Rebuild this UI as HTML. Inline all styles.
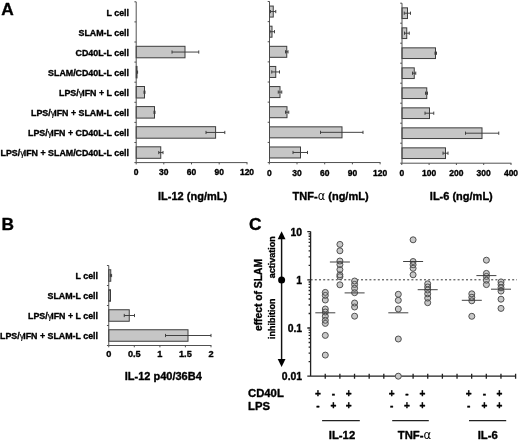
<!DOCTYPE html>
<html lang="en">
<head>
<meta charset="utf-8">
<title>Figure</title>
<style>
html,body{margin:0;padding:0;background:#fff;}
body{width:520px;height:442px;overflow:hidden;}
svg{display:block;filter:blur(0.45px);font-family:"Liberation Sans",Arial,Helvetica,sans-serif;font-weight:bold;fill:#000;}
text{stroke:#000;stroke-width:0.35px;stroke-linejoin:round;}
.sym{stroke-width:0.15px;}
.g{letter-spacing:-0.9px;}
.al{font-family:"DejaVu Sans","Liberation Sans",sans-serif;font-size:1.04em;stroke-width:0;}
.lab{font-size:8.85px;text-anchor:end;}
.tk{font-size:8.5px;text-anchor:middle;}
.tkb{font-size:9.2px;text-anchor:middle;}
.tkc{font-size:10.4px;text-anchor:end;}
.ttl{font-size:11px;text-anchor:middle;}
.pl{font-size:17.3px;}
.c11{font-size:11.3px;}
.pm{font-size:10px;text-anchor:middle;}
.sym{font-weight:normal;}
.ax{stroke:#484848;stroke-width:0.95;fill:none;}
.bar{fill:#c6c6c6;stroke:#3c3c3c;stroke-width:1;}
.eb{stroke:#3a3a3a;stroke-width:0.95;fill:none;}
.dotf{fill:#c8c8c8;stroke:none;}
.dots{fill:none;stroke:#505050;stroke-width:1;}
.axc{stroke:#222;stroke-width:1.3;fill:none;}
.med{stroke:#383838;stroke-width:0.95;fill:none;}
</style>
</head>
<body>
<svg width="520" height="442" viewBox="0 0 520 442">
<rect x="0" y="0" width="520" height="442" fill="#fff"/>

<text class="pl" x="1.3" y="14.6">A</text>
<text class="lab" x="129" y="15.7">L cell</text>
<text class="lab" x="129" y="35.7">SLAM-L cell</text>
<text class="lab" x="129" y="55.7">CD40L-L cell</text>
<text class="lab" x="129" y="75.7">SLAM/CD40L-L cell</text>
<text class="lab" x="129" y="95.7">LPS/<tspan class="sym g">γ</tspan>IFN + L cell</text>
<text class="lab" x="129" y="115.7">LPS/<tspan class="sym g">γ</tspan>IFN + SLAM-L cell</text>
<text class="lab" x="129" y="135.7">LPS/<tspan class="sym g">γ</tspan>IFN + CD40L-L cell</text>
<text class="lab" x="129" y="155.7">LPS/<tspan class="sym g">γ</tspan>IFN + SLAM/CD40L-L cell</text>
<rect class="bar" x="136.20" y="46.30" width="48.80" height="11.50"/>
<path class="eb" d="M172.00 52.05H198.75M172.00 50.45V53.65M198.75 50.45V53.65"/>
<rect class="bar" x="136.20" y="66.40" width="0.80" height="11.50"/>
<path class="eb" d="M136.60 72.15H137.60M136.60 70.55V73.75M137.60 70.55V73.75"/>
<rect class="bar" x="136.20" y="86.50" width="8.30" height="11.50"/>
<path class="eb" d="M144.00 92.25H145.00M144.00 90.65V93.85M145.00 90.65V93.85"/>
<rect class="bar" x="136.20" y="106.60" width="18.30" height="11.50"/>
<path class="eb" d="M154.00 112.35H155.00M154.00 110.75V113.95M155.00 110.75V113.95"/>
<rect class="bar" x="136.20" y="126.70" width="79.40" height="11.50"/>
<path class="eb" d="M206.00 132.45H224.80M206.00 130.85V134.05M224.80 130.85V134.05"/>
<rect class="bar" x="136.20" y="146.80" width="24.55" height="11.50"/>
<path class="eb" d="M158.75 152.55H163.00M158.75 150.95V154.15M163.00 150.95V154.15"/>
<path class="ax" d="M136.20 1.80V162.60H247.40M134.40 1.80H136.20M134.40 21.90H136.20M134.40 42.00H136.20M134.40 62.10H136.20M134.40 82.20H136.20M134.40 102.30H136.20M134.40 122.40H136.20M134.40 142.50H136.20M134.40 162.60H136.20M136.20 162.60V164.40M163.80 162.60V164.40M191.50 162.60V164.40M219.20 162.60V164.40M247.00 162.60V164.40"/>
<text class="tk" x="136.20" y="175.30">0</text>
<text class="tk" x="163.80" y="175.30">30</text>
<text class="tk" x="191.50" y="175.30">60</text>
<text class="tk" x="219.20" y="175.30">90</text>
<text class="tk" x="247.00" y="175.30">120</text>
<text class="ttl" x="192.60" y="200.40">IL-12 (ng/mL)</text>
<rect class="bar" x="269.50" y="6.06" width="3.75" height="11.00"/>
<path class="eb" d="M270.50 11.56H275.75M270.50 9.96V13.16M275.75 9.96V13.16"/>
<rect class="bar" x="269.50" y="26.20" width="2.50" height="11.00"/>
<path class="eb" d="M270.00 31.70H274.50M270.00 30.09V33.30M274.50 30.09V33.30"/>
<rect class="bar" x="269.50" y="46.32" width="17.25" height="11.00"/>
<path class="eb" d="M285.50 51.82H288.00M285.50 50.22V53.42M288.00 50.22V53.42"/>
<rect class="bar" x="269.50" y="66.45" width="6.25" height="11.00"/>
<path class="eb" d="M271.75 71.95H279.50M271.75 70.36V73.55M279.50 70.36V73.55"/>
<rect class="bar" x="269.50" y="86.58" width="10.50" height="11.00"/>
<path class="eb" d="M278.25 92.08H281.75M278.25 90.48V93.68M281.75 90.48V93.68"/>
<rect class="bar" x="269.50" y="106.71" width="17.50" height="11.00"/>
<path class="eb" d="M285.50 112.21H288.75M285.50 110.61V113.81M288.75 110.61V113.81"/>
<rect class="bar" x="269.50" y="126.84" width="72.50" height="11.00"/>
<path class="eb" d="M320.50 132.34H363.00M320.50 130.75V133.94M363.00 130.75V133.94"/>
<rect class="bar" x="269.50" y="146.97" width="31.00" height="11.00"/>
<path class="eb" d="M293.00 152.47H307.50M293.00 150.88V154.07M307.50 150.88V154.07"/>
<path class="ax" d="M269.50 1.50V162.54H380.50M267.70 1.50H269.50M267.70 21.63H269.50M267.70 41.76H269.50M267.70 61.89H269.50M267.70 82.02H269.50M267.70 102.15H269.50M267.70 122.28H269.50M267.70 142.41H269.50M267.70 162.54H269.50M269.30 162.54V164.34M297.00 162.54V164.34M324.70 162.54V164.34M352.40 162.54V164.34M380.10 162.54V164.34"/>
<text class="tk" x="269.30" y="175.80">0</text>
<text class="tk" x="297.00" y="175.80">30</text>
<text class="tk" x="324.70" y="175.80">60</text>
<text class="tk" x="352.40" y="175.80">90</text>
<text class="tk" x="380.10" y="175.80">120</text>
<text class="ttl" x="330.60" y="200.00">TNF-<tspan class="sym al">α</tspan> (ng/mL)</text>
<rect class="bar" x="402.00" y="7.85" width="5.50" height="10.70"/>
<path class="eb" d="M404.25 13.20H410.50M404.25 11.60V14.80M410.50 11.60V14.80"/>
<rect class="bar" x="402.00" y="27.85" width="4.75" height="10.70"/>
<path class="eb" d="M404.50 33.20H409.25M404.50 31.60V34.80M409.25 31.60V34.80"/>
<rect class="bar" x="402.00" y="47.85" width="33.50" height="10.70"/>
<path class="eb" d="M435.00 53.20H436.50M435.00 51.60V54.80M436.50 51.60V54.80"/>
<rect class="bar" x="402.00" y="67.85" width="12.25" height="10.70"/>
<path class="eb" d="M412.50 73.20H415.75M412.50 71.60V74.80M415.75 71.60V74.80"/>
<rect class="bar" x="402.00" y="87.85" width="24.75" height="10.70"/>
<path class="eb" d="M425.50 93.20H427.50M425.50 91.60V94.80M427.50 91.60V94.80"/>
<rect class="bar" x="402.00" y="107.85" width="27.50" height="10.70"/>
<path class="eb" d="M425.00 113.20H433.75M425.00 111.60V114.80M433.75 111.60V114.80"/>
<rect class="bar" x="402.00" y="127.85" width="80.00" height="10.70"/>
<path class="eb" d="M465.50 133.20H498.75M465.50 131.60V134.80M498.75 131.60V134.80"/>
<rect class="bar" x="402.00" y="147.85" width="43.50" height="10.70"/>
<path class="eb" d="M443.00 153.20H448.00M443.00 151.60V154.80M448.00 151.60V154.80"/>
<path class="ax" d="M402.00 3.20V163.20H511.40M400.20 3.20H402.00M400.20 23.20H402.00M400.20 43.20H402.00M400.20 63.20H402.00M400.20 83.20H402.00M400.20 103.20H402.00M400.20 123.20H402.00M400.20 143.20H402.00M400.20 163.20H402.00M401.75 163.20V165.00M429.10 163.20V165.00M456.40 163.20V165.00M483.70 163.20V165.00M511.00 163.20V165.00"/>
<text class="tk" x="401.75" y="175.80">0</text>
<text class="tk" x="429.10" y="175.80">100</text>
<text class="tk" x="456.40" y="175.80">200</text>
<text class="tk" x="483.70" y="175.80">300</text>
<text class="tk" x="511.00" y="175.80">400</text>
<text class="ttl" x="461.30" y="200.40">IL-6 (ng/mL)</text>
<text class="pl" x="1.6" y="229.8">B</text>
<text class="lab" x="98" y="278.8">L cell</text>
<text class="lab" x="98" y="298.8">SLAM-L cell</text>
<text class="lab" x="98" y="318.8">LPS/<tspan class="sym g">γ</tspan>IFN + L cell</text>
<text class="lab" x="98" y="338.8">LPS/<tspan class="sym g">γ</tspan>IFN + SLAM-L cell</text>
<rect class="bar" x="108.75" y="269.75" width="2.00" height="11.50"/>
<path class="eb" d="M110.30 275.50H111.60M110.30 273.90V277.10M111.60 273.90V277.10"/>
<rect class="bar" x="108.75" y="289.75" width="1.75" height="11.50"/>
<rect class="bar" x="108.75" y="309.75" width="20.50" height="11.50"/>
<path class="eb" d="M124.25 315.50H134.50M124.25 313.90V317.10M134.50 313.90V317.10"/>
<rect class="bar" x="108.75" y="329.75" width="79.25" height="11.50"/>
<path class="eb" d="M165.50 335.50H211.00M165.50 333.90V337.10M211.00 333.90V337.10"/>
<path class="ax" d="M108.75 265.50V345.50H211.40M106.95 265.50H108.75M106.95 285.50H108.75M106.95 305.50H108.75M106.95 325.50H108.75M106.95 345.50H108.75M108.75 345.50V347.30M134.30 345.50V347.30M159.90 345.50V347.30M185.40 345.50V347.30M211.00 345.50V347.30"/>
<text class="tkb" x="108.75" y="357.30">0</text>
<text class="tkb" x="134.30" y="357.30">0.5</text>
<text class="tkb" x="159.90" y="357.30">1</text>
<text class="tkb" x="185.40" y="357.30">1.5</text>
<text class="tkb" x="211.00" y="357.30">2</text>
<text class="ttl" x="163.30" y="380.20">IL-12 p40/36B4</text>
<text class="pl" x="248.9" y="230.3">C</text>
<path d="M310.60 279.80H517" stroke="#333" stroke-width="1" stroke-dasharray="2 2.2" fill="none"/>
<path class="axc" d="M310.60 231.60V376.20H515.60M307.30 231.60H310.60M307.30 279.80H310.60M307.30 328.00H310.60M307.30 376.20H310.60M308.60 265.29H310.60M308.60 256.80H310.60M308.60 250.78H310.60M308.60 246.11H310.60M308.60 242.29H310.60M308.60 239.07H310.60M308.60 236.27H310.60M308.60 233.81H310.60M308.60 313.49H310.60M308.60 305.00H310.60M308.60 298.98H310.60M308.60 294.31H310.60M308.60 290.49H310.60M308.60 287.27H310.60M308.60 284.47H310.60M308.60 282.01H310.60M308.60 361.69H310.60M308.60 353.20H310.60M308.60 347.18H310.60M308.60 342.51H310.60M308.60 338.69H310.60M308.60 335.47H310.60M308.60 332.67H310.60M308.60 330.21H310.60M325.24 373.70V378.70M339.89 373.70V378.70M354.53 373.70V378.70M369.17 373.70V378.70M383.81 373.70V378.70M398.46 373.70V378.70M413.10 373.70V378.70M427.74 373.70V378.70M442.39 373.70V378.70M457.03 373.70V378.70M471.67 373.70V378.70M486.31 373.70V378.70M500.96 373.70V378.70M515.60 373.70V378.70"/>
<text class="tkc" x="302.1" y="235.70">10</text>
<text class="tkc" x="302.1" y="283.90">1</text>
<text class="tkc" x="302.1" y="332.10">0.1</text>
<text class="tkc" x="302.1" y="380.30">0.01</text>
<path d="M281.60 236V361" stroke="#111" stroke-width="1.45" fill="none"/>
<path d="M281.60 231.2L285.50 239.2H277.70Z" fill="#000"/>
<path d="M281.60 367L285.50 359H277.70Z" fill="#000"/>
<circle cx="281.60" cy="280.10" r="3.5" fill="#000"/>
<text transform="translate(262.2 295) rotate(-90)" text-anchor="middle" font-size="10.3">effect of SLAM</text>
<text transform="translate(274.6 257.2) rotate(-90)" text-anchor="middle" font-size="9">activation</text>
<text transform="translate(274.6 318.8) rotate(-90)" text-anchor="middle" font-size="9">inhibition</text>
<circle class="dotf" cx="325.30" cy="292.40" r="3.0"/>
<circle class="dotf" cx="325.30" cy="295.40" r="3.0"/>
<circle class="dotf" cx="325.30" cy="300.00" r="3.0"/>
<circle class="dotf" cx="325.30" cy="309.00" r="3.0"/>
<circle class="dotf" cx="325.30" cy="312.00" r="3.0"/>
<circle class="dotf" cx="325.30" cy="316.20" r="3.0"/>
<circle class="dotf" cx="325.30" cy="320.30" r="3.0"/>
<circle class="dotf" cx="325.30" cy="323.40" r="3.0"/>
<circle class="dotf" cx="325.30" cy="335.40" r="3.0"/>
<circle class="dotf" cx="325.30" cy="355.10" r="3.0"/>
<circle class="dots" cx="325.30" cy="292.40" r="3.0"/>
<circle class="dots" cx="325.30" cy="295.40" r="3.0"/>
<circle class="dots" cx="325.30" cy="300.00" r="3.0"/>
<circle class="dots" cx="325.30" cy="309.00" r="3.0"/>
<circle class="dots" cx="325.30" cy="312.00" r="3.0"/>
<circle class="dots" cx="325.30" cy="316.20" r="3.0"/>
<circle class="dots" cx="325.30" cy="320.30" r="3.0"/>
<circle class="dots" cx="325.30" cy="323.40" r="3.0"/>
<circle class="dots" cx="325.30" cy="335.40" r="3.0"/>
<circle class="dots" cx="325.30" cy="355.10" r="3.0"/>
<path class="med" d="M315.30 312.80H335.30"/>
<circle class="dotf" cx="339.90" cy="244.40" r="3.0"/>
<circle class="dotf" cx="339.90" cy="250.80" r="3.0"/>
<circle class="dotf" cx="339.90" cy="261.00" r="3.0"/>
<circle class="dotf" cx="339.90" cy="264.60" r="3.0"/>
<circle class="dotf" cx="339.90" cy="269.60" r="3.0"/>
<circle class="dotf" cx="339.90" cy="274.80" r="3.0"/>
<circle class="dotf" cx="339.90" cy="276.70" r="3.0"/>
<circle class="dotf" cx="339.90" cy="284.80" r="3.0"/>
<circle class="dots" cx="339.90" cy="244.40" r="3.0"/>
<circle class="dots" cx="339.90" cy="250.80" r="3.0"/>
<circle class="dots" cx="339.90" cy="261.00" r="3.0"/>
<circle class="dots" cx="339.90" cy="264.60" r="3.0"/>
<circle class="dots" cx="339.90" cy="269.60" r="3.0"/>
<circle class="dots" cx="339.90" cy="274.80" r="3.0"/>
<circle class="dots" cx="339.90" cy="276.70" r="3.0"/>
<circle class="dots" cx="339.90" cy="284.80" r="3.0"/>
<path class="med" d="M329.90 262.00H349.90"/>
<circle class="dotf" cx="354.60" cy="281.00" r="3.0"/>
<circle class="dotf" cx="354.60" cy="284.40" r="3.0"/>
<circle class="dotf" cx="354.60" cy="288.30" r="3.0"/>
<circle class="dotf" cx="354.60" cy="292.70" r="3.0"/>
<circle class="dotf" cx="354.60" cy="303.00" r="3.0"/>
<circle class="dotf" cx="354.60" cy="307.00" r="3.0"/>
<circle class="dotf" cx="354.60" cy="316.20" r="3.0"/>
<circle class="dots" cx="354.60" cy="281.00" r="3.0"/>
<circle class="dots" cx="354.60" cy="284.40" r="3.0"/>
<circle class="dots" cx="354.60" cy="288.30" r="3.0"/>
<circle class="dots" cx="354.60" cy="292.70" r="3.0"/>
<circle class="dots" cx="354.60" cy="303.00" r="3.0"/>
<circle class="dots" cx="354.60" cy="307.00" r="3.0"/>
<circle class="dots" cx="354.60" cy="316.20" r="3.0"/>
<path class="med" d="M344.60 292.90H364.60"/>
<circle class="dotf" cx="398.30" cy="294.30" r="3.0"/>
<circle class="dotf" cx="398.30" cy="300.30" r="3.0"/>
<circle class="dotf" cx="398.30" cy="309.00" r="3.0"/>
<circle class="dotf" cx="398.30" cy="339.00" r="3.0"/>
<circle class="dotf" cx="398.30" cy="376.20" r="3.0"/>
<circle class="dots" cx="398.30" cy="294.30" r="3.0"/>
<circle class="dots" cx="398.30" cy="300.30" r="3.0"/>
<circle class="dots" cx="398.30" cy="309.00" r="3.0"/>
<circle class="dots" cx="398.30" cy="339.00" r="3.0"/>
<circle class="dots" cx="398.30" cy="376.20" r="3.0"/>
<path class="med" d="M388.30 312.80H408.30"/>
<circle class="dotf" cx="413.10" cy="239.80" r="3.0"/>
<circle class="dotf" cx="413.10" cy="261.50" r="3.0"/>
<circle class="dotf" cx="413.10" cy="264.80" r="3.0"/>
<circle class="dotf" cx="413.10" cy="268.30" r="3.0"/>
<circle class="dotf" cx="413.10" cy="274.80" r="3.0"/>
<circle class="dots" cx="413.10" cy="239.80" r="3.0"/>
<circle class="dots" cx="413.10" cy="261.50" r="3.0"/>
<circle class="dots" cx="413.10" cy="264.80" r="3.0"/>
<circle class="dots" cx="413.10" cy="268.30" r="3.0"/>
<circle class="dots" cx="413.10" cy="274.80" r="3.0"/>
<path class="med" d="M403.10 261.50H423.10"/>
<circle class="dotf" cx="427.70" cy="283.80" r="3.0"/>
<circle class="dotf" cx="427.70" cy="287.00" r="3.0"/>
<circle class="dotf" cx="427.70" cy="290.00" r="3.0"/>
<circle class="dotf" cx="427.70" cy="293.80" r="3.0"/>
<circle class="dotf" cx="427.70" cy="298.10" r="3.0"/>
<circle class="dotf" cx="427.70" cy="302.70" r="3.0"/>
<circle class="dots" cx="427.70" cy="283.80" r="3.0"/>
<circle class="dots" cx="427.70" cy="287.00" r="3.0"/>
<circle class="dots" cx="427.70" cy="290.00" r="3.0"/>
<circle class="dots" cx="427.70" cy="293.80" r="3.0"/>
<circle class="dots" cx="427.70" cy="298.10" r="3.0"/>
<circle class="dots" cx="427.70" cy="302.70" r="3.0"/>
<path class="med" d="M417.70 289.70H437.70"/>
<circle class="dotf" cx="471.80" cy="293.80" r="3.0"/>
<circle class="dotf" cx="471.80" cy="297.30" r="3.0"/>
<circle class="dotf" cx="471.80" cy="300.80" r="3.0"/>
<circle class="dotf" cx="471.80" cy="316.30" r="3.0"/>
<circle class="dots" cx="471.80" cy="293.80" r="3.0"/>
<circle class="dots" cx="471.80" cy="297.30" r="3.0"/>
<circle class="dots" cx="471.80" cy="300.80" r="3.0"/>
<circle class="dots" cx="471.80" cy="316.30" r="3.0"/>
<path class="med" d="M461.80 300.30H481.80"/>
<circle class="dotf" cx="486.40" cy="260.20" r="3.0"/>
<circle class="dotf" cx="486.40" cy="273.40" r="3.0"/>
<circle class="dotf" cx="486.40" cy="276.40" r="3.0"/>
<circle class="dotf" cx="486.40" cy="280.20" r="3.0"/>
<circle class="dotf" cx="486.40" cy="284.60" r="3.0"/>
<circle class="dots" cx="486.40" cy="260.20" r="3.0"/>
<circle class="dots" cx="486.40" cy="273.40" r="3.0"/>
<circle class="dots" cx="486.40" cy="276.40" r="3.0"/>
<circle class="dots" cx="486.40" cy="280.20" r="3.0"/>
<circle class="dots" cx="486.40" cy="284.60" r="3.0"/>
<path class="med" d="M476.40 275.60H496.40"/>
<circle class="dotf" cx="501.00" cy="281.90" r="3.0"/>
<circle class="dotf" cx="501.00" cy="284.60" r="3.0"/>
<circle class="dotf" cx="501.00" cy="287.80" r="3.0"/>
<circle class="dotf" cx="501.00" cy="291.10" r="3.0"/>
<circle class="dotf" cx="501.00" cy="299.20" r="3.0"/>
<circle class="dotf" cx="501.00" cy="308.40" r="3.0"/>
<circle class="dots" cx="501.00" cy="281.90" r="3.0"/>
<circle class="dots" cx="501.00" cy="284.60" r="3.0"/>
<circle class="dots" cx="501.00" cy="287.80" r="3.0"/>
<circle class="dots" cx="501.00" cy="291.10" r="3.0"/>
<circle class="dots" cx="501.00" cy="299.20" r="3.0"/>
<circle class="dots" cx="501.00" cy="308.40" r="3.0"/>
<path class="med" d="M491.00 289.20H511.00"/>
<text class="c11" x="248" y="396.7">CD40L</text>
<text class="c11" x="248" y="410.2">LPS</text>
<text class="pm" x="318.00" y="396.7">+</text>
<text class="pm" x="333.40" y="396.7">-</text>
<text class="pm" x="348.70" y="396.7">+</text>
<text class="pm" x="318.00" y="409.0">-</text>
<text class="pm" x="333.40" y="409.0">+</text>
<text class="pm" x="348.70" y="409.0">+</text>
<path d="M322.10 420.7H359.80" stroke="#222" stroke-width="1.3" fill="none"/>
<text class="c11" text-anchor="middle" x="342.00" y="439.2">IL-12</text>
<text class="pm" x="391.70" y="396.7">+</text>
<text class="pm" x="407.00" y="396.7">-</text>
<text class="pm" x="422.50" y="396.7">+</text>
<text class="pm" x="391.70" y="409.0">-</text>
<text class="pm" x="407.00" y="409.0">+</text>
<text class="pm" x="422.50" y="409.0">+</text>
<path d="M392.20 420.7H428.80" stroke="#222" stroke-width="1.3" fill="none"/>
<text class="c11" text-anchor="middle" x="414.50" y="439.2">TNF-<tspan class="sym al">α</tspan></text>
<text class="pm" x="468.70" y="396.7">+</text>
<text class="pm" x="484.30" y="396.7">-</text>
<text class="pm" x="499.40" y="396.7">+</text>
<text class="pm" x="468.70" y="409.0">-</text>
<text class="pm" x="484.30" y="409.0">+</text>
<text class="pm" x="499.40" y="409.0">+</text>
<path d="M469.00 420.7H506.20" stroke="#222" stroke-width="1.3" fill="none"/>
<text class="c11" text-anchor="middle" x="487.70" y="439.2">IL-6</text>
</svg>
</body>
</html>
